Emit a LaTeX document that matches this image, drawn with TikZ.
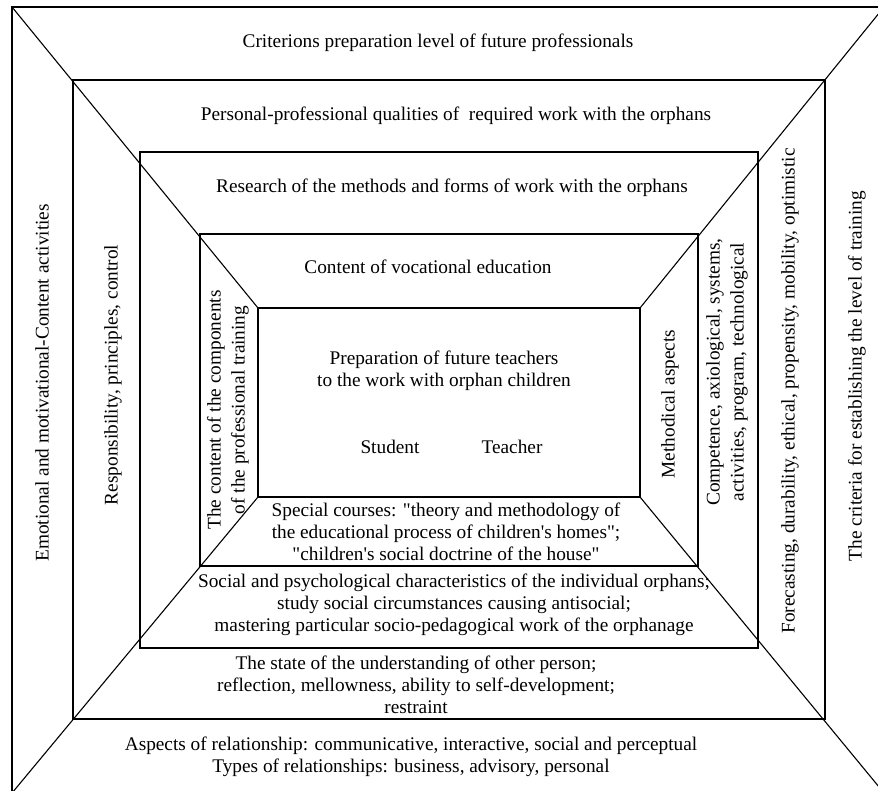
\documentclass[tikz,border=0pt]{standalone}
\usepackage{fontspec}
\setmainfont{Liberation Serif}[Ligatures=TeXOff]
\usepackage{tikz}
\usetikzlibrary{positioning}

\begin{document}
\begin{tikzpicture}[x=1pt, y=-1pt,
        frame/.style={line width=1.8pt},
        diag/.style={line width=1.1pt},
        txt/.style={align=center, inner sep=0pt, font=\fontsize{19.3}{22}\selectfont},
        vtxt/.style={txt, rotate=90, font=\fontsize{19.3}{24}\selectfont}]
        \useasboundingbox (0,0) rectangle (878,791);

        % frame corners, outermost to innermost
        \coordinate (TL1) at (12,7);    \coordinate (BR1) at (884,793);
        \coordinate (TL2) at (73,80);   \coordinate (BR2) at (825,719);
        \coordinate (TL3) at (140,152); \coordinate (BR3) at (758,648);
        \coordinate (TL4) at (200,234); \coordinate (BR4) at (698,566);
        \coordinate (TL5) at (258,308); \coordinate (BR5) at (640,497);

        % frames
        \draw[frame] (TL1) rectangle (BR1);
        \draw[frame] (TL2) rectangle (BR2);
        \draw[frame] (TL3) rectangle (BR3);
        \draw[frame] (TL4) rectangle (BR4);
        \draw[frame] (TL5) rectangle (BR5);

        % corner diagonals
        \draw[diag] (TL1) -- (TL5);
        \draw[diag] (TL1 -| BR1) -- (TL5 -| BR5);
        \draw[diag] (TL1 |- BR1) -- (TL5 |- BR5);
        \draw[diag] (BR1) -- (BR5);

        % top bands
        \node[txt] (crit) at (438,43) {Criterions preparation level of future professionals};
        \node[txt] (qual) at (456,116) {Personal-professional qualities of\ \ required work with the orphans};
        \node[txt] (meth) at (452,188) {Research of the methods and forms of work with the orphans};
        \node[txt] (voc) at (428,267) {Content of vocational education};

        % core
        \node[txt] (prep) at (444,371) {Preparation of future teachers\\to the work with orphan children};
        \node[txt] (stud) at (390,447) {Student};
        \node[txt] (teach) at (512,447) {Teacher};

        % bottom bands
        \node[txt] (spec) at (446,532) {Special courses: "theory and methodology of\\the educational process of children's homes";\\"children's social doctrine of the house"};
        \node[txt] (soc) at (454,605) {Social and psychological characteristics of the individual orphans;\\study social circumstances causing antisocial;\\mastering particular socio-pedagogical work of the orphanage};
        \node[txt] (state) at (416,685) {The state of the understanding of other person;\\reflection, mellowness, ability to self-development;\\restraint};
        \node[txt] (asp) at (411,757) {Aspects of relationship: communicative, interactive, social and perceptual\\Types of relationships: business, advisory, personal};

        % side bands
        \node[vtxt] (emo) at (42,383) {Emotional and motivational-Content activities};
        \node[vtxt] (resp) at (113,375) {Responsibility, principles, control};
        \node[vtxt] (comp) at (228,410) {The content of the components\\of the professional training};
        \node[vtxt] (asp2) at (670,404) {Methodical aspects};
        \node[vtxt] (axio) at (727,372) {Competence, axiological, systems,\\activities, program, technological};
        \node[vtxt] (fore) at (790,391) {Forecasting, durability, ethical, propensity, mobility, optimistic};
        \node[vtxt] (crit2) at (857,376) {The criteria for establishing the level of training};
\end{tikzpicture}
\end{document}
